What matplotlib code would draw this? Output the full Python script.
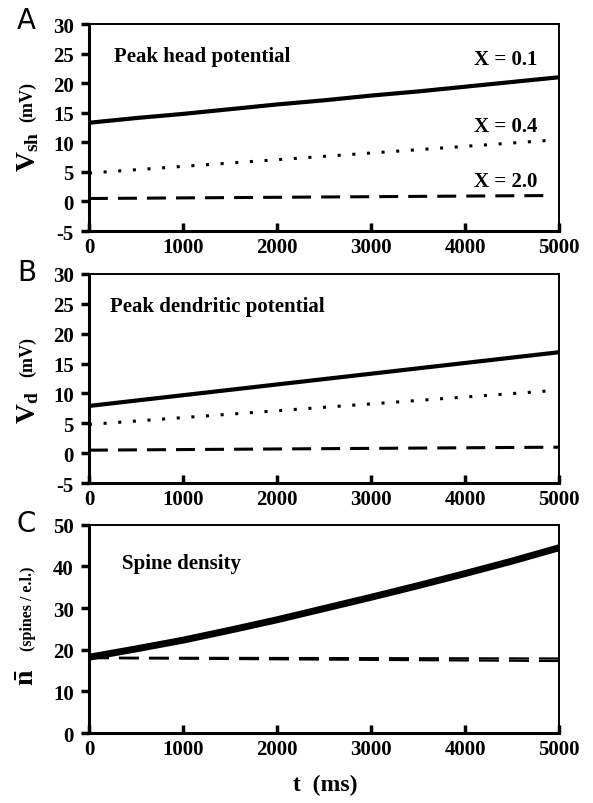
import numpy as np
import matplotlib.pyplot as plt

plt.rcParams['font.family'] = 'Liberation Serif'
plt.rcParams['font.weight'] = 'bold'
plt.rcParams['mathtext.fontset'] = 'custom'
plt.rcParams['mathtext.rm'] = 'Liberation Serif:bold'
plt.rcParams['mathtext.bf'] = 'Liberation Serif:bold'
plt.rcParams['mathtext.it'] = 'Liberation Serif:bold'

# time axis (ms)
t = np.array([0, 500, 1000, 1500, 2000, 2500, 3000, 3500, 4000, 4500, 5000])
t_dot = np.array([0, 4870])
t_dash = np.array([0, 4880])
t_end = np.array([0, 5000])

# A: peak head potential (mV)
vsh_01 = np.array([13.3, 14.1, 14.8, 15.6, 16.4, 17.1, 17.9, 18.6, 19.4, 20.2, 21.0])
vsh_04 = np.array([4.8, 10.3])
vsh_20 = np.array([0.5, 1.0])

# B: peak dendritic potential (mV)
vd_01 = np.array([7.9, 8.8, 9.7, 10.6, 11.5, 12.4, 13.3, 14.2, 15.1, 16.0, 16.9])
vd_04 = np.array([4.8, 10.4])
vd_20 = np.array([0.5, 1.0])

# C: spine density (spines / e.l.)
n_01 = np.array([18.2, 20.2, 22.3, 24.7, 27.2, 29.9, 32.6, 35.4, 38.3, 41.3, 44.5])
n_04 = np.array([18.1, 17.9])
n_20 = np.array([18.0, 17.3])

xticks = [0, 1000, 2000, 3000, 4000, 5000]

fig = plt.figure(figsize=(5.93, 8.04), dpi=100)
axA = fig.add_axes([0.150, 0.7114, 0.793, 0.2575])
axB = fig.add_axes([0.150, 0.398, 0.793, 0.260])
axC = fig.add_axes([0.150, 0.087, 0.793, 0.259])

dot_style = dict(color='black', lw=2.2, linestyle=(0, (1, 3.8)), dash_capstyle='butt')
dash_style = dict(color='black', lw=2.2, linestyle=(0, (6.2, 3.3)))


def style(ax, ylim, yticks):
    ax.set_xlim(0, 5000)
    ax.set_ylim(*ylim)
    ax.set_xticks(xticks)
    ax.set_yticks(yticks)
    ax.set_yticklabels([str(v) for v in yticks])
    for s in ['left', 'bottom']:
        ax.spines[s].set_linewidth(2.2)
    for s in ['top', 'right']:
        ax.spines[s].set_linewidth(1.4)
    ax.tick_params(axis='x', direction='in', length=6, width=2.5, labelsize=15, pad=4)
    ax.tick_params(axis='y', direction='out', length=6, width=2.5, labelsize=15, pad=5)
    for lab in ax.get_xticklabels() + ax.get_yticklabels():
        lab.set_fontweight('bold')


# A
axA.plot(t, vsh_01, color='black', lw=3)
axA.plot(t_dot, vsh_04, **dot_style)
axA.plot(t_dash, vsh_20, **dash_style)
style(axA, (-5, 30), [-5, 0, 5, 10, 15, 20, 25, 30])
axA.text(270, 24.6, 'Peak head potential', fontsize=15, fontweight='bold', va='center')
axA.text(4430, 24.1, 'X = 0.1', fontsize=15, fontweight='bold', va='center', ha='center')
axA.text(4430, 12.7, 'X = 0.4', fontsize=15, fontweight='bold', va='center', ha='center')
axA.text(4430, 3.4, 'X = 2.0', fontsize=15, fontweight='bold', va='center', ha='center')

# B
axB.plot(t, vd_01, color='black', lw=3)
axB.plot(t_dot, vd_04, **dot_style)
axB.plot(t_end, vd_20, **dash_style)
style(axB, (-5, 30), [-5, 0, 5, 10, 15, 20, 25, 30])
axB.text(220, 24.6, 'Peak dendritic potential', fontsize=15, fontweight='bold', va='center')

# C
axC.plot(t, n_01, color='black', lw=5)
axC.plot(t_end, n_04, color='black', lw=1.6, linestyle=(0, (9, 4.5)))
axC.plot(t_end, n_20, color='black', lw=1.6, linestyle=(0, (9, 4.5)))
style(axC, (0, 50), [0, 10, 20, 30, 40, 50])
axC.text(350, 40.9, 'Spine density', fontsize=15, fontweight='bold', va='center')

# y labels
fig.text(0.047, 1 - 152 / 804, r'$\mathbf{V_{sh}}$', rotation=90, fontsize=20, ha='center', va='center')
fig.text(0.047, 1 - 102 / 804, '(mV)', rotation=90, fontsize=13, ha='center', va='center')
fig.text(0.047, 1 - 408 / 804, r'$\mathbf{V_{d}}$', rotation=90, fontsize=20, ha='center', va='center')
fig.text(0.047, 1 - 357 / 804, '(mV)', rotation=90, fontsize=13, ha='center', va='center')
fig.text(0.047, 1 - 678 / 804, r'$\bar{\mathbf{n}}$', rotation=90, fontsize=20, ha='center', va='center')
fig.text(0.047, 1 - 609 / 804, '(spines / e.l.)', rotation=90, fontsize=11.5, ha='center', va='center')

# x label
fig.text(0.548, 1 - 785 / 804, 't  (ms)', fontsize=17, fontweight='bold', ha='center', va='center')

# panel letters
for letter, y in [('A', 21), ('B', 273), ('C', 524)]:
    fig.text(0.045, 1 - y / 804, letter, fontsize=20, family='DejaVu Sans',
             fontweight='normal', ha='center', va='center')

fig.savefig('out.png', dpi=100)
